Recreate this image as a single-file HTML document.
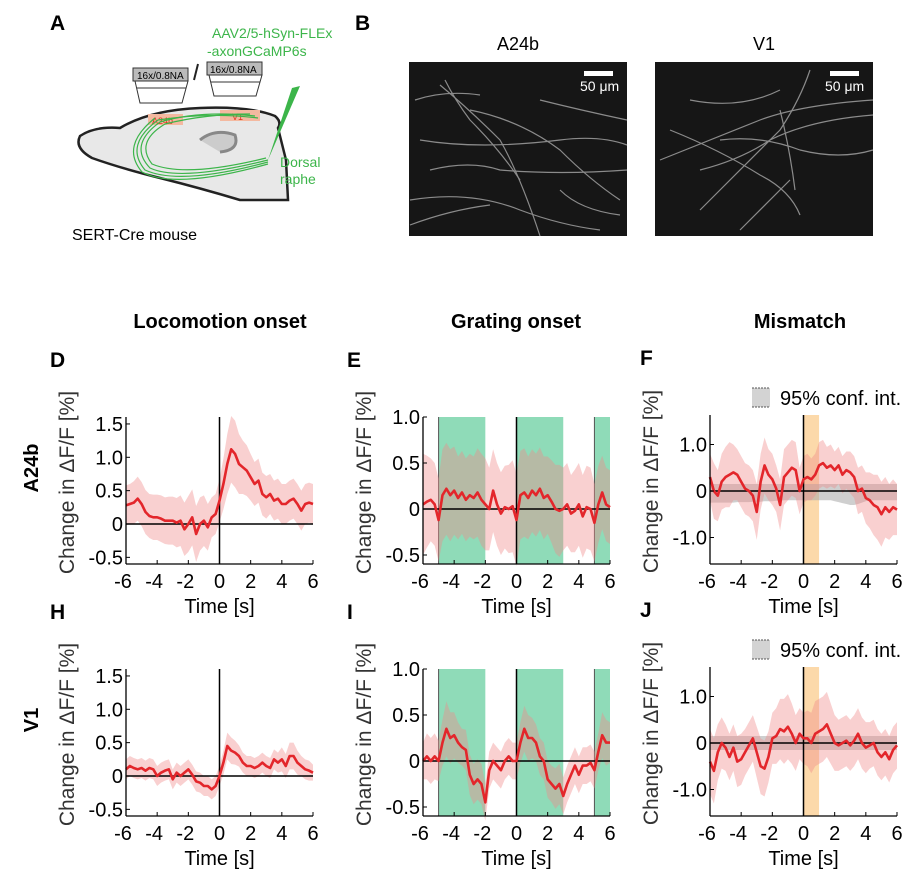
<!DOCTYPE html>
<html><head><meta charset="utf-8">
<style>
body{margin:0;background:#fff;}
svg{display:block;font-family:"Liberation Sans",Arial,sans-serif;}
</style></head>
<body>
<svg id="fig" width="921" height="884" viewBox="0 0 921 884" xmlns="http://www.w3.org/2000/svg">
<!-- Panel A -->
<g>
<text x="50" y="30" font-size="21" font-weight="bold">A</text>
<text x="212" y="38" font-size="14" fill="#3cb54a">AAV2/5-hSyn-FLEx</text>
<text x="207" y="56" font-size="14" fill="#3cb54a">-axonGCaMP6s</text>
<g>
<rect x="133" y="68" width="55" height="13" fill="#bbb" stroke="#333"/>
<text x="137" y="79" font-size="10">16x/0.8NA</text>
<polygon points="135,81 188,81 182,103 140,103" fill="#fff" stroke="#333"/>
<line x1="137" y1="88" x2="186" y2="88" stroke="#333"/>
</g>
<line x1="198" y1="64" x2="194" y2="80" stroke="#222" stroke-width="2"/>
<g>
<rect x="207" y="62" width="55" height="13" fill="#bbb" stroke="#333"/>
<text x="210" y="73" font-size="10">16x/0.8NA</text>
<polygon points="209,75 262,75 256,96 214,96" fill="#fff" stroke="#333"/>
<line x1="211" y1="82" x2="260" y2="82" stroke="#333"/>
</g>
<path d="M120,128 Q150,110 200,108 Q250,106 275,116 Q282,122 278,128 L286,160 L288,200 L240,200 Q200,188 160,178 Q120,168 92,158 Q74,148 80,136 Q95,126 120,128 Z" fill="#e8e8e8" stroke="#222" stroke-width="2.5"/>
<rect x="148" y="114" width="35" height="11" fill="#f4b9a0"/>
<text x="152" y="124" font-size="9" fill="#e03020">A24b</text>
<rect x="220" y="110" width="40" height="11" fill="#f4b9a0"/>
<text x="232" y="120" font-size="9" fill="#e03020">V1</text>
<path d="M200,140 Q215,128 235,135 Q240,150 220,152" fill="#ccc" stroke="#888" stroke-width="3"/>
<g fill="none" stroke="#3cb54a" stroke-width="1.2">
<path d="M268,160 Q180,182 150,168 Q128,145 160,122 Q200,110 255,116"/>
<path d="M268,162 Q180,186 145,170 Q124,145 158,120 Q210,112 258,118"/>
<path d="M266,158 Q185,178 152,164 Q135,142 165,124 Q205,114 250,114"/>
<path d="M268,164 Q175,190 142,172 Q120,146 155,118"/>
</g>
<polygon points="300,86 292,88 268,160" fill="#3cb54a"/>
<text x="280" y="167" font-size="14" fill="#3cb54a">Dorsal</text>
<text x="280" y="184" font-size="14" fill="#3cb54a">raphe</text>
<text x="72" y="240" font-size="16">SERT-Cre mouse</text>
</g>
<!-- Panel B -->
<g>
<text x="355" y="30" font-size="21" font-weight="bold">B</text>
<text x="518" y="50" font-size="18" text-anchor="middle">A24b</text>
<text x="764" y="50" font-size="18" text-anchor="middle">V1</text>
<rect x="409" y="62" width="218" height="174" fill="#161616"/>
<rect x="655" y="62" width="218" height="174" fill="#161616"/>
<g fill="none" stroke="#a0a0a0" stroke-width="1.2" opacity="0.85">
<path d="M420,140 Q480,150 560,140 Q600,135 627,145"/><path d="M440,85 Q470,110 500,140 Q520,175 540,236"/>
<path d="M410,200 Q470,190 520,210 Q560,225 600,230"/><path d="M470,110 Q520,120 560,150 Q590,180 620,200"/>
<path d="M430,170 Q470,160 500,170 Q560,175 627,170"/><path d="M415,100 Q445,90 480,95"/>
<path d="M445,80 Q455,100 470,120 Q500,150 520,180"/><path d="M540,100 Q580,110 627,120"/>
<path d="M410,225 Q450,210 490,205"/><path d="M560,190 Q580,210 620,215"/>
<path d="M660,160 Q710,140 760,120 Q800,105 873,100"/><path d="M700,210 Q740,170 780,130 Q800,100 810,70"/>
<path d="M670,130 Q720,150 760,175 Q790,190 800,215"/><path d="M720,140 Q760,135 800,150 Q840,160 873,150"/>
<path d="M690,100 Q740,110 780,90"/><path d="M740,230 Q770,200 790,180"/>
<path d="M700,170 Q740,160 770,140 Q810,120 873,115"/><path d="M780,110 Q790,150 795,190"/>
</g>
<rect x="584" y="71" width="29" height="5" fill="#fff"/>
<text x="580" y="91" font-size="14" fill="#fff">50 μm</text>
<rect x="830" y="71" width="29" height="5" fill="#fff"/>
<text x="825" y="91" font-size="14" fill="#fff">50 μm</text>
</g>
<!-- headers -->
<text x="220" y="328" font-size="20" font-weight="bold" text-anchor="middle">Locomotion onset</text>
<text x="516" y="328" font-size="20" font-weight="bold" text-anchor="middle">Grating onset</text>
<text x="800" y="328" font-size="20" font-weight="bold" text-anchor="middle">Mismatch</text>
<text transform="translate(38,468) rotate(-90)" font-size="20" font-weight="bold" text-anchor="middle">A24b</text>
<text transform="translate(38,720) rotate(-90)" font-size="20" font-weight="bold" text-anchor="middle">V1</text>
<g id="charts"></g>
</svg>
<script>
const timeTicks = [-6,-4,-2,0,2,4,6];
const meanD = [0.28,0.3,0.32,0.38,0.3,0.18,0.12,0.1,0.1,0.08,0.05,0.05,0.05,0.02,0.05,-0.08,0.0,0.1,-0.15,0.0,0.05,-0.05,0.1,0.15,0.35,0.6,0.9,1.12,1.05,0.9,0.85,0.8,0.7,0.6,0.65,0.45,0.4,0.45,0.35,0.38,0.3,0.3,0.35,0.38,0.3,0.2,0.3,0.32,0.3];
const ciD = [0.3,0.3,0.32,0.33,0.33,0.33,0.33,0.34,0.34,0.35,0.35,0.36,0.36,0.37,0.38,0.4,0.42,0.42,0.42,0.4,0.38,0.35,0.3,0.3,0.32,0.38,0.45,0.5,0.5,0.45,0.4,0.38,0.35,0.33,0.33,0.32,0.32,0.3,0.3,0.3,0.3,0.3,0.3,0.3,0.3,0.3,0.3,0.3,0.3];
const meanE = [0.05,0.08,0.1,0.05,-0.12,0.15,0.22,0.15,0.2,0.12,0.18,0.1,0.15,0.12,0.18,0.1,0.05,0.0,0.2,0.05,-0.05,0.02,0.0,0.03,-0.12,0.15,0.18,0.12,0.2,0.15,0.22,0.12,0.15,0.08,0.0,-0.02,0.0,0.05,-0.05,-0.02,0.05,-0.08,0.02,0.0,-0.15,0.05,0.18,0.05,0.02];
const ciE = [0.55,0.5,0.45,0.45,0.45,0.5,0.5,0.5,0.48,0.45,0.45,0.45,0.45,0.45,0.48,0.5,0.5,0.45,0.45,0.45,0.45,0.45,0.48,0.5,0.5,0.48,0.48,0.45,0.45,0.45,0.45,0.45,0.42,0.45,0.48,0.5,0.45,0.45,0.42,0.45,0.45,0.45,0.45,0.45,0.42,0.42,0.4,0.4,0.4];
const meanF = [0.3,0.0,-0.1,0.2,0.3,0.35,0.4,0.35,0.2,0.05,0.0,-0.1,-0.45,0.2,0.55,0.35,0.25,0.05,-0.3,0.3,0.4,0.5,0.45,0.0,0.25,0.3,0.25,0.35,0.55,0.6,0.5,0.55,0.45,0.55,0.35,0.45,0.4,0.3,0.0,0.05,-0.15,-0.2,-0.3,-0.35,-0.5,-0.35,-0.45,-0.35,-0.4];
const ciF = [0.5,0.6,0.55,0.6,0.65,0.7,0.6,0.55,0.55,0.55,0.55,0.55,0.6,0.6,0.6,0.55,0.55,0.5,0.55,0.6,0.6,0.6,0.6,0.5,0.5,0.5,0.45,0.45,0.5,0.5,0.45,0.45,0.4,0.4,0.4,0.4,0.45,0.45,0.5,0.5,0.55,0.6,0.65,0.7,0.7,0.65,0.6,0.6,0.55];
const shuffleHiF = [0.15,0.15,0.15,0.15,0.15,0.15,0.15,0.15,0.15,0.15,0.15,0.15,0.15,0.15,0.15,0.15,0.15,0.15,0.15,0.15,0.15,0.15,0.15,0.15,0.15,0.15,0.15,0.15,0.15,0.15,0.15,0.15,0.15,0.15,0.15,0.15,0.15,0.15,0.15,0.15,0.15,0.15,0.15,0.15,0.15,0.15,0.15,0.15,0.15];
const shuffleLoF = [-0.25,-0.25,-0.25,-0.25,-0.25,-0.25,-0.25,-0.24,-0.24,-0.24,-0.24,-0.23,-0.23,-0.23,-0.22,-0.22,-0.22,-0.21,-0.21,-0.2,-0.2,-0.2,-0.2,-0.2,-0.2,-0.2,-0.2,-0.2,-0.2,-0.2,-0.2,-0.2,-0.22,-0.24,-0.26,-0.28,-0.3,-0.3,-0.28,-0.25,-0.22,-0.2,-0.2,-0.2,-0.2,-0.2,-0.2,-0.2,-0.2];
const meanH = [0.1,0.15,0.12,0.1,0.12,0.08,0.12,0.1,0.0,0.05,0.08,0.1,-0.05,0.05,0.0,0.05,0.1,0.02,-0.08,-0.1,-0.15,-0.15,-0.2,-0.15,0.0,0.2,0.45,0.38,0.35,0.3,0.2,0.15,0.15,0.12,0.15,0.2,0.15,0.12,0.25,0.2,0.25,0.15,0.3,0.3,0.2,0.15,0.1,0.08,0.05];
const ciH = [0.15,0.15,0.15,0.15,0.15,0.15,0.15,0.15,0.15,0.15,0.15,0.15,0.15,0.15,0.15,0.15,0.15,0.15,0.15,0.15,0.15,0.15,0.15,0.15,0.15,0.18,0.2,0.2,0.18,0.16,0.15,0.15,0.15,0.15,0.15,0.15,0.15,0.15,0.15,0.15,0.18,0.18,0.2,0.2,0.18,0.15,0.15,0.15,0.12];
const meanI = [0.0,0.05,0.0,0.05,0.0,0.2,0.35,0.25,0.28,0.2,0.15,0.12,-0.15,-0.25,-0.2,-0.25,-0.45,-0.1,0.0,-0.05,-0.1,0.0,0.05,0.0,0.0,0.2,0.35,0.25,0.25,0.2,0.05,0.0,-0.2,-0.25,-0.3,-0.25,-0.38,-0.25,-0.15,-0.05,-0.15,-0.05,-0.05,-0.02,-0.1,0.1,0.28,0.2,0.2];
const ciI = [0.2,0.25,0.25,0.25,0.22,0.25,0.3,0.28,0.25,0.22,0.2,0.22,0.22,0.22,0.22,0.22,0.2,0.2,0.2,0.2,0.2,0.2,0.2,0.2,0.2,0.22,0.25,0.25,0.22,0.2,0.2,0.2,0.2,0.2,0.22,0.22,0.2,0.2,0.2,0.2,0.2,0.2,0.2,0.2,0.2,0.2,0.25,0.25,0.22];
const meanJ = [-0.4,-0.6,-0.2,0.0,-0.1,-0.3,-0.1,-0.4,-0.35,-0.2,-0.05,0.1,-0.2,-0.5,-0.55,-0.3,0.1,0.15,0.3,0.25,0.35,0.2,0.0,0.2,0.1,0.1,0.0,0.2,0.25,0.3,0.4,0.2,0.0,-0.05,0.0,0.05,-0.05,0.05,0.2,0.0,-0.1,-0.05,0.0,-0.2,-0.3,-0.2,-0.35,-0.15,-0.05];
const ciJ = [0.7,0.7,0.6,0.55,0.5,0.5,0.5,0.55,0.55,0.5,0.5,0.5,0.55,0.6,0.6,0.55,0.55,0.6,0.65,0.7,0.7,0.65,0.6,0.55,0.55,0.6,0.65,0.7,0.7,0.7,0.7,0.65,0.6,0.55,0.55,0.55,0.55,0.55,0.55,0.55,0.55,0.5,0.5,0.5,0.5,0.5,0.5,0.5,0.5];
const shuffleHiJ = [0.15,0.15,0.15,0.15,0.15,0.15,0.15,0.15,0.15,0.15,0.15,0.15,0.15,0.15,0.15,0.15,0.15,0.15,0.15,0.15,0.15,0.15,0.15,0.15,0.15,0.15,0.15,0.15,0.15,0.15,0.15,0.15,0.15,0.15,0.15,0.15,0.15,0.15,0.15,0.15,0.15,0.15,0.15,0.15,0.15,0.15,0.15,0.15,0.15];
const shuffleLoJ = [-0.15,-0.15,-0.15,-0.15,-0.15,-0.15,-0.15,-0.15,-0.15,-0.15,-0.15,-0.15,-0.15,-0.15,-0.15,-0.15,-0.15,-0.15,-0.15,-0.15,-0.15,-0.15,-0.15,-0.15,-0.15,-0.15,-0.15,-0.15,-0.15,-0.15,-0.15,-0.15,-0.15,-0.15,-0.15,-0.15,-0.15,-0.15,-0.15,-0.15,-0.15,-0.15,-0.15,-0.15,-0.15,-0.15,-0.15,-0.15,-0.15];
const gratingOn = [[-5,-2],[0,3],[5,6]];
const mismatchOn = [[0,1]];
const yTicksLoco = [-0.5,0,0.5,1.0,1.5];
const yTickLabelsLoco = ["-0.5","0","0.5","1.0","1.5"];
const yTicksGrat = [-0.5,0,0.5,1.0];
const yTickLabelsGrat = ["-0.5","0","0.5","1.0"];
const yTicksMis = [-1.0,0,1.0];
const yTickLabelsMis = ["-1.0","0","1.0"];

const NS = "http://www.w3.org/2000/svg";
const root = document.getElementById('charts');
function mk(tag, attrs, parent){const e=document.createElementNS(NS,tag);for(const k in attrs)e.setAttribute(k,attrs[k]);(parent||root).appendChild(e);return e;}

function panel(o){
  const g = mk('g',{});
  
  
  const x = t => o.x0 + (t + 6) / 12 * (o.x1 - o.x0);
  const y = v => o.yZero - v * o.ppu;
  const tOf = i => -6 + i * 12 / (o.mean.length - 1);
  const lbl = mk('text',{x:o.lx,y:o.top-50,'font-size':21,'font-weight':'bold'},g);
  lbl.textContent = o.letter;
  
  
  (o.bands||[]).forEach(b=>{
    const r = mk('rect',{x:x(b[0]),y:o.top,width:x(b[1])-x(b[0]),height:o.bottom-o.top,fill:o.bandColor},g);
    
    
    if(o.bandEdge){mk('line',{x1:x(b[0]),x2:x(b[0]),y1:o.top,y2:o.bottom,stroke:'#555','stroke-width':1},g);}
  });
  if(o.shHi){
    let d='M';
    o.shHi.forEach((v,i)=>{d+=x(tOf(i))+','+y(v)+' L';});
    for(let i=o.shLo.length-1;i>=0;i--){d+=x(tOf(i))+','+y(o.shLo[i])+(i?' L':' Z');}
    const p = mk('path',{d:d,fill:'#a8a8a8','fill-opacity':0.55},g);
    
    
  }
  let d='M';
  o.mean.forEach((v,i)=>{d+=x(tOf(i))+','+y(v+o.ci[i])+' L';});
  for(let i=o.mean.length-1;i>=0;i--){d+=x(tOf(i))+','+y(o.mean[i]-o.ci[i])+(i?' L':' Z');}
  const ci = mk('path',{d:d,fill:'#f08a8a','fill-opacity':0.4},g);
  
  
  mk('line',{x1:o.x0,x2:o.x1,y1:y(0),y2:y(0),stroke:'#000','stroke-width':1.5},g);
  mk('line',{x1:x(0),x2:x(0),y1:o.top,y2:o.bottom,stroke:'#000','stroke-width':1.5},g);
  const line = mk('polyline',{points:o.mean.map((v,i)=>x(tOf(i))+','+y(v)).join(' '),fill:'none',stroke:'#e3262b','stroke-width':2.6,'stroke-linejoin':'round'},g);
  
  
  mk('line',{x1:o.x0,x2:o.x0,y1:o.top,y2:o.bottom,stroke:'#000','stroke-width':1.3},g);
  mk('line',{x1:o.x0,x2:o.x1,y1:o.bottom,y2:o.bottom,stroke:'#000','stroke-width':1.3},g);
  timeTicks.forEach(t=>{
    mk('line',{x1:x(t),x2:x(t),y1:o.bottom,y2:o.bottom-4,stroke:'#000'},g);
    const tl = mk('text',{x:x(t)-(t<0?3:0),y:o.bottom+24,'font-size':20,'text-anchor':'middle'},g);
    tl.textContent = String(t);
    
    
  });
  o.yt.forEach((v,i)=>{
    mk('line',{x1:o.x0,x2:o.x0+4,y1:y(v),y2:y(v),stroke:'#000'},g);
    const tl = mk('text',{x:o.x0-3,y:y(v)+7,'font-size':20,'text-anchor':'end'},g);
    tl.textContent = o.ytl[i];
    
    
  });
  const xt = mk('text',{x:(o.x0+o.x1)/2,y:o.bottom+49,'font-size':20,'text-anchor':'middle'},g);
  xt.textContent = 'Time [s]';
  
  
  const yl = mk('text',{transform:'translate('+(o.x0-52)+','+((o.top+o.bottom)/2-8)+') rotate(-90)','font-size':21,'text-anchor':'middle',fill:'#333'},g);
  yl.textContent = 'Change in ΔF/F [%]';
  
  
  if(o.legend){
    const lg = mk('g',{},g);
    
    
    const ly = o.top - 27;
    mk('rect',{x:752,y:ly,width:18,height:19,fill:'#d3d3d3'},lg);
    mk('line',{x1:752,x2:770,y1:ly,y2:ly,stroke:'#555','stroke-dasharray':'2,1'},lg);
    mk('line',{x1:752,x2:770,y1:ly+19,y2:ly+19,stroke:'#555','stroke-dasharray':'2,1'},lg);
    const lt = mk('text',{x:780,y:ly+17,'font-size':20},lg);
    lt.textContent = '95% conf. int.';
  }
}
const R = 252;
panel({id:'d',letter:'D',lx:50,x0:126,x1:313,top:417,bottom:564,yZero:524,ppu:66.7,mean:meanD,ci:ciD,yt:yTicksLoco,ytl:yTickLabelsLoco});
panel({id:'e',letter:'E',lx:347,x0:423,x1:610,top:417,bottom:564,yZero:509,ppu:92,mean:meanE,ci:ciE,yt:yTicksGrat,ytl:yTickLabelsGrat,bands:gratingOn,bandColor:'#8fdbb8',bandEdge:true});
panel({id:'f',letter:'F',lx:640,x0:710,x1:897,top:415,bottom:564,yZero:491,ppu:46.5,mean:meanF,ci:ciF,yt:yTicksMis,ytl:yTickLabelsMis,bands:mismatchOn,bandColor:'#fcd9aa',shHi:shuffleHiF,shLo:shuffleLoF,legend:true});
panel({id:'h',letter:'H',lx:50,x0:126,x1:313,top:417+R,bottom:564+R,yZero:524+R,ppu:66.7,mean:meanH,ci:ciH,yt:yTicksLoco,ytl:yTickLabelsLoco});
panel({id:'i',letter:'I',lx:347,x0:423,x1:610,top:417+R,bottom:564+R,yZero:509+R,ppu:92,mean:meanI,ci:ciI,yt:yTicksGrat,ytl:yTickLabelsGrat,bands:gratingOn,bandColor:'#8fdbb8',bandEdge:true});
panel({id:'j',letter:'J',lx:640,x0:710,x1:897,top:415+R,bottom:564+R,yZero:491+R,ppu:46.5,mean:meanJ,ci:ciJ,yt:yTicksMis,ytl:yTickLabelsMis,bands:mismatchOn,bandColor:'#fcd9aa',shHi:shuffleHiJ,shLo:shuffleLoJ,legend:true});
</script>
</body></html>
